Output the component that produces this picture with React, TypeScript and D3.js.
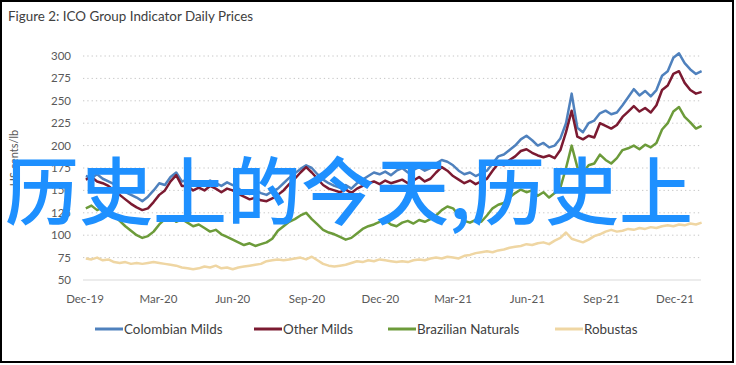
import React, { useEffect, useRef } from "react";
import * as d3 from "d3";

const title = "Figure 2: ICO Group Indicator Daily Prices";
const yAxisLabel = "US cents/lb";
const watermark = "历史上的今天,历史上";

const seriesNames = ["Colombian Milds", "Other Milds", "Brazilian Naturals", "Robustas"];
const seriesColors = ["#4f81bd", "#7b1a31", "#6c9b3a", "#efd6a3"];

// weekly observations, Dec 2019 - Jan 2022
const weeks = d3.timeDay.range(new Date(2019, 11, 2), new Date(2022, 0, 4), 7);

const colombianMilds = [
  166, 164, 168, 163, 160, 157, 152, 148, 145, 142, 138, 143, 150, 158, 156, 165, 170, 160,
  162, 158, 160, 157, 161, 158, 155, 159, 156, 152, 148, 146, 150, 147, 145, 149,
  152, 158, 164, 169, 174, 178, 175, 168, 162, 158, 155, 153, 156, 152, 158,
  162, 166, 170, 168, 171, 167, 172, 175, 170, 173, 176, 172, 175, 180, 184, 182, 178,
  172, 168, 170, 166, 169, 172, 180, 188,
  190, 195, 200, 207, 211, 206, 200, 203, 198, 200, 208, 225, 258, 220, 215,
  225, 228, 236, 239, 235, 237, 245, 254, 263, 256, 261, 255, 262, 278, 283, 298, 303, 292, 285, 280, 283,
];
const otherMilds = [
  162, 165, 160, 158, 155, 150, 145, 140, 135, 131, 128, 130, 137, 145, 150, 160, 167, 155,
  155, 150, 153, 150, 155, 152, 148, 152, 150, 146, 143, 140, 142, 139, 138, 141,
  145, 150, 157, 163, 170, 176, 170, 163, 156, 152, 150, 148, 151, 147, 152,
  155, 158, 160, 157, 161, 158, 160, 162, 158, 161, 165, 160, 163, 170, 176, 172, 166,
  162, 158, 161, 157, 160, 163, 172, 180,
  178, 184, 188, 194, 196, 192, 189, 187, 189, 186, 195, 215, 239, 210, 207,
  211, 209, 225, 222, 219, 223, 232, 238, 244, 238, 242, 237, 245, 262, 267, 280, 283, 270, 262, 258, 260,
];
const brazilianNaturals = [
  130, 133, 128, 131, 127, 122, 116, 110, 105, 100, 97, 99, 104, 112, 118, 121, 115, 118,
  114, 110, 112, 108, 104, 106, 101, 98, 95, 92, 89, 91, 88, 90, 92, 96,
  105, 110, 115, 118, 122, 125, 118, 112, 106, 103, 101, 98, 95, 97,
  102, 107, 110, 112, 115, 117, 112, 110, 114, 116, 113, 117, 115, 118, 122, 128, 132,
  130, 122, 116, 114, 117, 115, 122, 130, 134, 136, 142, 147, 151, 148, 150, 144, 148, 142, 147, 153,
  175, 200, 176, 170, 178, 180, 190, 184, 180, 186, 195, 197, 200, 196, 201, 198, 203, 218, 225, 238,
  243, 232, 226, 219, 222,
];
const robustas = [
  74, 73, 75, 72, 73, 70, 69, 70, 68, 69, 68, 69, 70, 69, 68, 67, 66,
  64, 63, 62, 63, 65, 64, 66, 63, 64, 62, 64, 65, 66, 67, 68, 71, 72, 73, 72,
  73, 74, 75, 73, 76, 72, 68, 66, 65, 66, 67, 69, 71, 70, 72, 71, 73, 72, 71, 70,
  71, 70, 72, 73, 72, 74, 75, 74, 76, 75, 74, 77, 78, 80, 81, 82, 81, 83, 84, 86, 87,
  88, 90, 89, 91, 92, 90, 94,
  97, 103, 96, 94, 92, 95, 99, 101, 104, 106, 104, 105, 107, 106, 108, 107, 109, 108, 110, 111,
  110, 112, 111, 113, 112, 114,
];
const seriesValues = [colombianMilds, otherMilds, brazilianNaturals, robustas];

const yTicks = [50, 75, 100, 125, 150, 175, 200, 225, 250, 275, 300];
const xTickDates = [
  new Date(2019, 11, 1), new Date(2020, 2, 1), new Date(2020, 5, 1), new Date(2020, 8, 1),
  new Date(2020, 11, 1), new Date(2021, 2, 1), new Date(2021, 5, 1), new Date(2021, 8, 1),
  new Date(2021, 11, 1),
];
const xTickLabels = ["Dec-19", "Mar-20", "Jun-20", "Sep-20", "Dec-20", "Mar-21", "Jun-21", "Sep-21", "Dec-21"];

const W = 736;
const H = 365;
const plot = { left: 83, right: 701, top: 56, bottom: 280 };
const font = "Lato, 'Open Sans', sans-serif";

export default function App() {
  const ref = useRef<SVGSVGElement | null>(null);

  useEffect(() => {
    const svg = d3.select(ref.current);
    svg.selectAll("*").remove();

    const x = d3
      .scaleTime()
      .domain([new Date(2019, 11, 1), new Date(2022, 0, 1)])
      .range([85, 700]);
    const y = d3.scaleLinear().domain([50, 300]).range([plot.bottom, plot.top]);

    svg.append("rect").attr("width", W).attr("height", H).attr("fill", "#fff");
    svg
      .append("rect")
      .attr("x", 1)
      .attr("y", 1)
      .attr("width", 732)
      .attr("height", 361)
      .attr("fill", "none")
      .attr("stroke", "#000")
      .attr("stroke-width", 2);

    svg
      .append("text")
      .attr("x", 8)
      .attr("y", 21)
      .attr("font-family", font)
      .attr("font-size", 13.4)
      .attr("fill", "#404040")
      .text(title);

    // gridlines
    svg
      .append("g")
      .selectAll("line")
      .data(yTicks)
      .enter()
      .append("line")
      .attr("x1", plot.left)
      .attr("x2", plot.right)
      .attr("y1", (d) => y(d))
      .attr("y2", (d) => y(d))
      .attr("stroke", (d) => (d === 50 ? "#d9d9d9" : "#c6c6c6"))
      .attr("stroke-width", (d) => (d === 50 ? 1.2 : 1))
      .attr("stroke-dasharray", (d) => (d === 50 ? null : "1.3,3"));

    svg
      .append("g")
      .attr("font-family", font)
      .attr("font-size", 11.5)
      .attr("fill", "#595959")
      .attr("text-anchor", "end")
      .selectAll("text")
      .data(yTicks)
      .enter()
      .append("text")
      .attr("x", 71)
      .attr("y", (d) => y(d))
      .attr("dy", "0.35em")
      .text((d) => d);

    svg
      .append("g")
      .attr("font-family", font)
      .attr("font-size", 11.5)
      .attr("fill", "#595959")
      .attr("text-anchor", "middle")
      .selectAll("text")
      .data(xTickDates)
      .enter()
      .append("text")
      .attr("x", (d) => x(d))
      .attr("y", 303)
      .text((d, i) => xTickLabels[i]);

    svg
      .append("text")
      .attr("transform", `translate(18, 158) rotate(-90)`)
      .attr("text-anchor", "middle")
      .attr("font-family", font)
      .attr("font-size", 11)
      .attr("fill", "#595959")
      .text(yAxisLabel);

    const line = d3
      .line<number>()
      .x((d, i) => x(weeks[i]))
      .y((d) => y(d));

    svg
      .append("g")
      .selectAll("path")
      .data(seriesValues)
      .enter()
      .append("path")
      .attr("d", (d) => line(d))
      .attr("fill", "none")
      .attr("stroke", (d, i) => seriesColors[i])
      .attr("stroke-width", 2.5)
      .attr("stroke-linejoin", "round");

    // legend
    const legendX = [95, 254, 388, 555];
    const legend = svg
      .append("g")
      .selectAll("g")
      .data(seriesNames)
      .enter()
      .append("g")
      .attr("transform", (d, i) => `translate(${legendX[i]}, 329)`);
    legend
      .append("line")
      .attr("x1", 0)
      .attr("x2", 28)
      .attr("stroke", (d, i) => seriesColors[i])
      .attr("stroke-width", 3);
    legend
      .append("text")
      .attr("x", 29)
      .attr("dy", "0.35em")
      .attr("font-family", font)
      .attr("font-size", 13.4)
      .attr("fill", "#404040")
      .text((d) => d);

    svg
      .append("text")
      .attr("x", 5)
      .attr("y", 219)
      .attr("font-family", "'Noto Sans CJK SC', sans-serif")
      .attr("font-size", 74)
      .attr("font-weight", 500)
      .attr("fill", "#1e90ff")
      .text(watermark);
  }, []);

  return (
    <div style={{ position: "absolute", left: 0, top: 0 }}>
      <svg ref={ref} width={W} height={H} style={{ display: "block" }}></svg>
    </div>
  );
}
